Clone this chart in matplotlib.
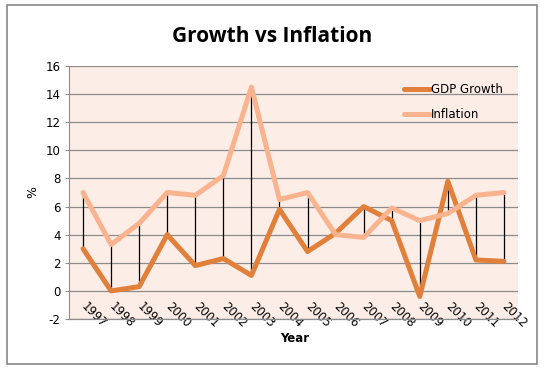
import numpy as np
import matplotlib.pyplot as plt
from matplotlib.patches import Rectangle

plt.rcParams['axes.unicode_minus'] = False

years = ['1997', '1998', '1999', '2000', '2001', '2002', '2003', '2004',
         '2005', '2006', '2007', '2008', '2009', '2010', '2011', '2012']
gdp_growth = [3.0, 0.0, 0.3, 4.0, 1.8, 2.3, 1.1, 5.8,
              2.8, 4.1, 6.0, 5.0, -0.4, 7.8, 2.2, 2.1]
inflation = [7.0, 3.3, 4.8, 7.0, 6.8, 8.2, 14.5, 6.5,
             7.0, 4.0, 3.8, 5.9, 5.0, 5.5, 6.8, 7.0]

gdp_color = '#E0803A'
infl_color = '#F9B48F'

fig = plt.figure(figsize=(5.44, 3.71), dpi=100)
# outer chart border
fig.patches.append(Rectangle((7 / 544, 1 - 364 / 371), 530 / 544, 359 / 371,
                             transform=fig.transFigure, fill=False,
                             edgecolor='#868686', linewidth=1.2))

ax = fig.add_axes([69 / 544, 1 - 319 / 371, 449 / 544, 253 / 371])
ax.set_facecolor('#FDEDE7')

x = np.arange(len(years))

# high-low lines between the two series
ax.vlines(x, np.minimum(gdp_growth, inflation), np.maximum(gdp_growth, inflation),
          color='black', linewidth=0.9, zorder=2)

ax.plot(x, gdp_growth, color=gdp_color, linewidth=3.6, label='GDP Growth',
        solid_joinstyle='round', solid_capstyle='round', zorder=3)
ax.plot(x, inflation, color=infl_color, linewidth=3.6, label='Inflation',
        solid_joinstyle='round', solid_capstyle='round', zorder=3)

ax.set_xlim(-0.5, len(years) - 0.5)
ax.set_ylim(-2, 16)
ax.set_yticks(np.arange(-2, 17, 2))
ax.yaxis.grid(True, color='#8C8C8C', linewidth=0.9)
ax.axhline(-2, color='#8C8C8C', linewidth=0.9, clip_on=False, zorder=1)
ax.set_axisbelow(True)

# category axis crosses at 0, labels hang below it
ax.spines['bottom'].set_position(('data', 0))
ax.spines['bottom'].set_visible(False)
ax.set_xticks(x)
ax.set_xticklabels(years, rotation=-45, ha='left', va='center', fontsize=8.5,
                   rotation_mode='anchor')
ax.tick_params(axis='x', length=0, pad=10)
ax.tick_params(axis='y', length=3, color='#8C8C8C', labelsize=8.5, pad=3)

for side in ['top', 'right']:
    ax.spines[side].set_visible(False)
ax.spines['left'].set_color('#8C8C8C')

fig.text(33 / 544, 1 - 192 / 371, '%', rotation=90, ha='center', va='center',
         fontsize=9)
fig.text(295 / 544, 1 - 338 / 371, 'Year', ha='center', va='center',
         fontsize=8.5, fontweight='bold')

fig.text(272 / 544, 1 - 37 / 371, 'Growth vs Inflation', ha='center', va='center',
         fontsize=15, fontweight='bold', family='Open Sans')

ax.legend(loc='upper right', bbox_to_anchor=(0.99, 0.975), frameon=False,
          fontsize=8.5, handlelength=2.2, handletextpad=0.1, labelspacing=1.05)

fig.savefig('out.png', dpi=100)
